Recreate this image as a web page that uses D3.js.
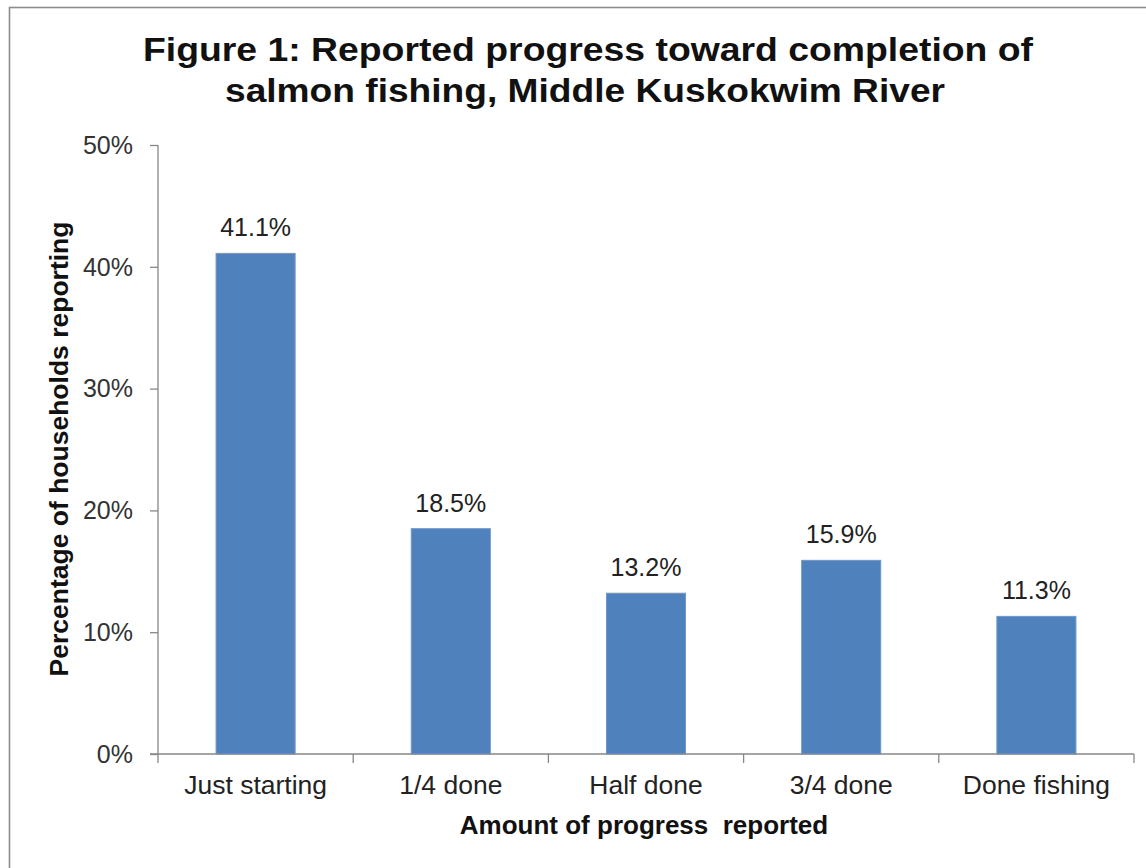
<!DOCTYPE html>
<html>
<head>
<meta charset="utf-8">
<script src="https://cdn.jsdelivr.net/npm/d3@7"></script>
<style>
  html, body { margin: 0; padding: 0; background: #fff; }
  svg { display: block; }
  text { font-family: "Liberation Sans", Arial, sans-serif; }
</style>
</head>
<body>
<svg id="chart" width="1146" height="868"></svg>
<script>
const categories = ["Just starting", "1/4 done", "Half done", "3/4 done", "Done fishing"];
const values = [41.1, 18.5, 13.2, 15.9, 11.3];
const valueLabels = ["41.1%", "18.5%", "13.2%", "15.9%", "11.3%"];
const yTicks = [0, 10, 20, 30, 40, 50];
const yTickLabels = ["0%", "10%", "20%", "30%", "40%", "50%"];
const titleLines = ["Figure 1: Reported progress toward completion of", "salmon fishing, Middle Kuskokwim River"];
const xTitle = "Amount of progress  reported";
const yTitle = "Percentage of households reporting";

const svg = d3.select("#chart");

// outer border (extends past right/bottom edges as in reference)
svg.append("rect")
  .attr("x", 9.5).attr("y", 7.5)
  .attr("width", 1160).attr("height", 880)
  .attr("fill", "#fff")
  .attr("stroke", "#8c8c8c")
  .attr("stroke-width", 1.6);

const x0 = 158, x1 = 1134, yBottom = 754, yTop = 145;

const x = d3.scaleBand().domain(categories).range([x0, x1])
  .paddingInner(0.595).paddingOuter(0.2975);
const xb = d3.scaleBand().domain(categories).range([x0, x1]).padding(0);
const y = d3.scaleLinear().domain([0, 50]).range([yBottom, yTop]);

// bars
svg.append("g").selectAll("rect")
  .data(values)
  .join("rect")
  .attr("x", (d, i) => x(categories[i]))
  .attr("y", d => y(d))
  .attr("width", x.bandwidth())
  .attr("height", d => y(0) - y(d))
  .attr("fill", "#4f81bd")
  .attr("stroke", "#6d98cc")
  .attr("stroke-width", 1);

// y axis
const yAxis = svg.append("g").attr("transform", `translate(${x0},0)`)
  .call(d3.axisLeft(y).tickValues(yTicks).tickSize(8).tickFormat(() => ""));
yAxis.selectAll("path, line").attr("stroke", "#878787").attr("stroke-width", 1.3);
yAxis.select(".domain").attr("d", `M0,${yTop}V${yBottom}`).attr("stroke", "#878787");

svg.append("g").selectAll("text")
  .data(yTicks)
  .join("text")
  .attr("x", 133)
  .attr("y", d => y(d))
  .attr("dy", "0.35em")
  .attr("text-anchor", "end")
  .attr("font-size", 25)
  .attr("fill", "#333")
  .text((d, i) => yTickLabels[i]);

// x axis
const bounds = categories.map(c => xb(c)).concat([x1]);
svg.append("line")
  .attr("x1", x0 - 8).attr("x2", x1)
  .attr("y1", yBottom).attr("y2", yBottom)
  .attr("stroke", "#878787").attr("stroke-width", 1.3);
svg.append("g").selectAll("line")
  .data(bounds)
  .join("line")
  .attr("x1", d => d).attr("x2", d => d)
  .attr("y1", yBottom).attr("y2", yBottom + 9)
  .attr("stroke", "#878787").attr("stroke-width", 1.3);

svg.append("g").selectAll("text")
  .data(categories)
  .join("text")
  .attr("transform", d => `translate(${xb(d) + xb.bandwidth() / 2},794) scale(1.06,1)`)
  .attr("text-anchor", "middle")
  .attr("font-size", 25)
  .attr("fill", "#222")
  .text(d => d);

// value labels
svg.append("g").selectAll("text")
  .data(values)
  .join("text")
  .attr("x", (d, i) => xb(categories[i]) + xb.bandwidth() / 2)
  .attr("y", d => y(d) - 17)
  .attr("text-anchor", "middle")
  .attr("font-size", 25)
  .attr("fill", "#222")
  .text((d, i) => valueLabels[i]);

// title
const titleCenters = [588, 585];
const titleBaselines = [61, 102];
const titleWidths = [890, 720];
svg.append("g").selectAll("text")
  .data(titleLines)
  .join("text")
  .attr("x", (d, i) => titleCenters[i])
  .attr("y", (d, i) => titleBaselines[i])
  .attr("text-anchor", "middle")
  .attr("font-size", 33)
  .attr("font-weight", "bold")
  .attr("fill", "#111")
  .attr("textLength", (d, i) => titleWidths[i])
  .attr("lengthAdjust", "spacingAndGlyphs")
  .text(d => d);

// axis titles
svg.append("text")
  .attr("x", 644).attr("y", 834)
  .attr("text-anchor", "middle")
  .attr("font-size", 26)
  .attr("font-weight", "bold")
  .attr("fill", "#111")
  .style("white-space", "pre")
  .attr("xml:space", "preserve")
  .text(xTitle);

svg.append("text")
  .attr("transform", "translate(68,449) rotate(-90)")
  .attr("text-anchor", "middle")
  .attr("font-size", 26.5)
  .attr("font-weight", "bold")
  .attr("fill", "#111")
  .text(yTitle);
</script>
</body>
</html>
